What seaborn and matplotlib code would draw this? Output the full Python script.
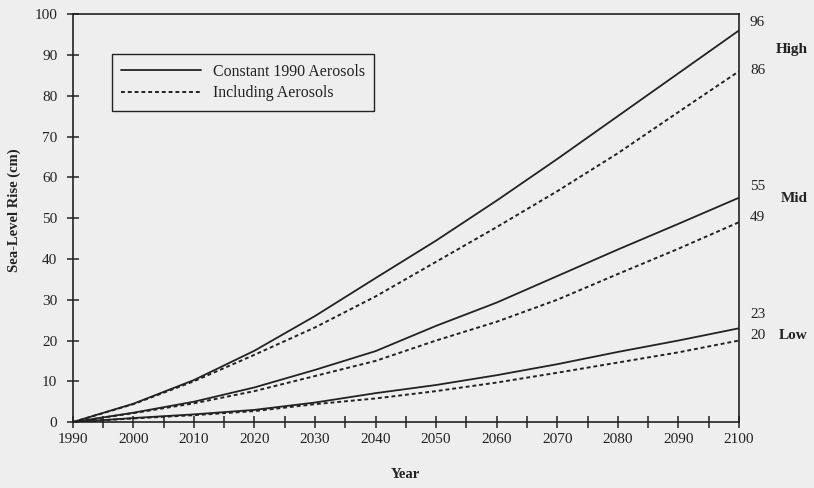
import matplotlib
matplotlib.use("Agg")
import matplotlib.pyplot as plt
from matplotlib.lines import Line2D
import pandas as pd
import seaborn as sns

# Projected sea-level rise (cm) by scenario
years = [1990, 2000, 2010, 2020, 2030, 2040, 2050, 2060, 2070, 2080, 2090, 2100]
high_constant = [0, 4.5, 10.3, 17.5, 26.0, 35.3, 44.5, 54.3, 64.5, 75.0, 85.5, 96]
high_aerosols = [0, 4.4, 10.0, 16.5, 23.2, 30.8, 39.3, 47.8, 56.6, 65.9, 76.0, 86]
mid_constant = [0, 2.3, 5.0, 8.5, 12.8, 17.4, 23.6, 29.3, 35.8, 42.3, 48.6, 55]
mid_aerosols = [0, 2.2, 4.6, 7.6, 11.3, 15.0, 20.0, 24.6, 30.0, 36.3, 42.5, 49]
low_constant = [0, 1.0, 1.9, 3.0, 4.8, 7.1, 9.1, 11.5, 14.2, 17.2, 20.0, 23]
low_aerosols = [0, 0.9, 1.7, 2.7, 4.4, 5.8, 7.6, 9.7, 12.1, 14.6, 17.1, 20]

scenarios = ["High", "Mid", "Low"]
cases = ["Constant 1990 Aerosols", "Including Aerosols"]
x_ticks = list(range(1990, 2101, 10))
y_ticks = list(range(0, 101, 10))

series = {
    ("High", cases[0]): high_constant,
    ("High", cases[1]): high_aerosols,
    ("Mid", cases[0]): mid_constant,
    ("Mid", cases[1]): mid_aerosols,
    ("Low", cases[0]): low_constant,
    ("Low", cases[1]): low_aerosols,
}
rows = []
for (scen, case), vals in series.items():
    for yr, v in zip(years, vals):
        rows.append({"Year": yr, "Rise": v, "Scenario": scen, "Case": case})
df = pd.DataFrame(rows)

sns.set_theme(style="ticks")
plt.rcParams["font.family"] = ["Liberation Serif", "DejaVu Serif"]
bg = "#eeeeee"
ink = "#222222"

fig = plt.figure(figsize=(8.14, 4.88), dpi=100, facecolor=bg)
ax = fig.add_axes([0.0893, 0.135, 0.8185, 0.836])
ax.set_facecolor(bg)

line_style = {cases[0]: (None, 1.3), cases[1]: ((2.0, 1.5), 1.4)}
for (scen, case), _ in series.items():
    sub = df[(df["Scenario"] == scen) & (df["Case"] == case)]
    dash, lw = line_style[case]
    sns.lineplot(data=sub, x="Year", y="Rise", ax=ax, color=ink,
                 linewidth=lw, legend=False)
    line = ax.lines[-1]
    if dash is not None:
        line.set_dashes(dash)

ax.set_xlim(1990, 2100)
ax.set_ylim(0, 100)
ax.set_xticks(x_ticks)
ax.set_xticks(list(range(1995, 2100, 10)), minor=True)
ax.set_yticks(y_ticks)
ax.tick_params(axis="both", which="both", direction="inout", length=8,
               width=1.1, color=ink, labelsize=11, labelcolor=ink,
               top=False, right=False)
ax.tick_params(axis="y", pad=7)
ax.tick_params(axis="x", pad=4)
for sp in ax.spines.values():
    sp.set_color(ink)
    sp.set_linewidth(1.2)

ax.set_xlabel("Year", fontsize=10.5, fontweight="bold", color=ink, labelpad=16)
ax.set_ylabel("Sea-Level Rise (cm)", fontsize=10.5, fontweight="bold", color=ink)
ax.yaxis.set_label_coords(-0.078, 0.52)

# End-of-century values and scenario names
end_vals = [high_constant[-1], high_aerosols[-1], mid_constant[-1],
            mid_aerosols[-1], low_constant[-1], low_aerosols[-1]]
end_offsets = [8, 1, 11, 5, 14, 5]
for v, off in zip(end_vals, end_offsets):
    ax.annotate(f"{v:g}", xy=(2100, v), xytext=(11, off),
                textcoords="offset pixels", ha="left", va="center",
                fontsize=11, color=ink, annotation_clip=False)
name_y = [91.4, 54.9, 21.3]
for name, yv in zip(scenarios, name_y):
    ax.annotate(name, xy=(2100, yv), xytext=(69, 0),
                textcoords="offset pixels", ha="right", va="center",
                fontsize=11, fontweight="bold", color=ink,
                annotation_clip=False)

handles = [
    Line2D([], [], color=ink, linewidth=1.3),
    Line2D([], [], color=ink, linewidth=1.4, dashes=(2.0, 1.5)),
]
leg = ax.legend(handles, cases, loc="upper left",
                bbox_to_anchor=(0.059, 0.902), borderaxespad=0,
                fontsize=11.4, handlelength=5.0, handletextpad=0.75,
                labelspacing=0.35, borderpad=0.6, fancybox=False,
                frameon=True)
frame = leg.get_frame()
frame.set_facecolor(bg)
frame.set_edgecolor(ink)
frame.set_linewidth(1.0)
frame.set_alpha(1)
for t in leg.get_texts():
    t.set_color(ink)

fig.savefig("out.png", dpi=100, facecolor=bg)
